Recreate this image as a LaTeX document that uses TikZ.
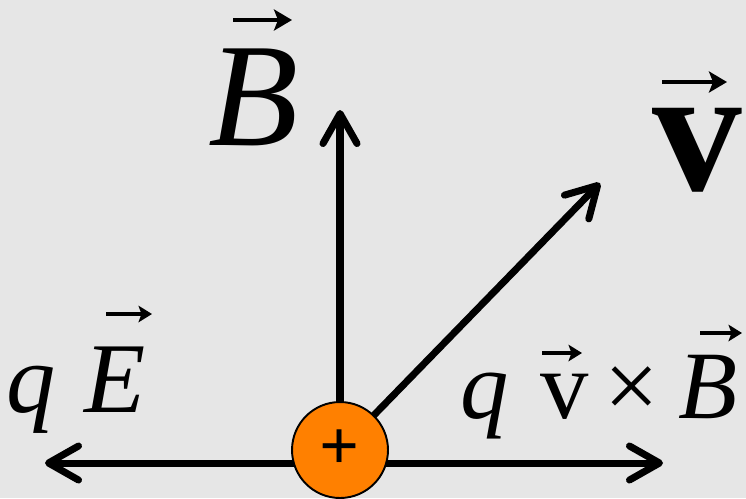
\documentclass[tikz,border=0pt]{standalone}
\usepackage{fontspec}
\setmainfont{Liberation Serif}
\usetikzlibrary{arrows.meta}
\definecolor{bggray}{RGB}{230,230,230}
\definecolor{chargeorange}{RGB}{255,128,0}

\begin{document}
\begin{tikzpicture}[x=0.02cm, y=-0.02cm,
                  vec/.style={line width=4pt, line cap=round,
                              -{Straight Barb[round, length=6mm, width=6.8mm]}},
                  charge/.style={circle, draw, line width=1.1pt, fill=chargeorange,
                                 minimum size=1.92cm, inner sep=0pt,
                                 font=\fontsize{40}{40}\selectfont\bfseries},
                  glyph/.style={inner sep=0pt, anchor=base},
                  accbig/.style={line width=2.8pt,
                                 -{Stealth[length=0.36cm, width=0.42cm, inset=0.08cm]}},
                  accsmall/.style={line width=2.1pt,
                                   -{Stealth[length=0.27cm, width=0.33cm, inset=0.06cm]}},
            ]

            % ---- background ----
            \useasboundingbox (0,0) rectangle (746,498);
            \fill[bggray] (0,0) rectangle (746,498);

            % ---- anchor points ----
            \coordinate (qc)   at (340,450);
            \coordinate (axis) at (340,463);
            \coordinate (Etip) at (45,463);
            \coordinate (Ftip) at (663,463);
            \coordinate (Btip) at (340,110);
            \coordinate (vtip) at (600,183);

            % ---- force and field vectors ----
            \draw[vec] (axis) -- (Etip);
            \draw[vec] (axis) -- (Ftip);
            \draw[vec] (qc) -- (Btip);
            \draw[vec] (qc) -- (vtip);

            % ---- charge ----
            \node[charge] (q) at (qc) {+};

            % ---- field and velocity labels ----
            \node[glyph, font=\fontsize{84}{90}\selectfont\itshape] (Btop) at (254,145) {B};
            \node[glyph, font=\fontsize{102}{108}\selectfont\bfseries] (vtop) at (697,190) {v};
            \draw[accbig] ([shift={(-21,-125)}]Btop.base) -- ([shift={(38,-125)}]Btop.base);
            \draw[accbig] ([shift={(-35,-108)}]vtop.base) -- ([shift={(30,-108)}]vtop.base);

            % ---- force labels ----
            \node[glyph, font=\fontsize{56}{60}\selectfont\itshape] (qL) at (31,412) {q};
            \node[glyph, font=\fontsize{57}{60}\selectfont\itshape] (EL) at (115,412) {E};
            \draw[accsmall] ([shift={(-9,-98)}]EL.base) -- ([shift={(37,-98)}]EL.base);

            \node[glyph, font=\fontsize{55}{60}\selectfont\itshape] (qR) at (485,418) {q};
            \node[glyph, font=\fontsize{55}{60}\selectfont] (vR) at (565,418) {v};
            \node[glyph, font=\fontsize{55}{60}\selectfont] (xR) at (632,418) {×};
            \node[glyph, font=\fontsize{55}{60}\selectfont\itshape] (BR) at (708,418) {B};
            \draw[accsmall] ([shift={(-23,-65)}]vR.base) -- ([shift={(17,-65)}]vR.base);
            \draw[accsmall] ([shift={(-8,-85)}]BR.base) -- ([shift={(34,-85)}]BR.base);

\end{tikzpicture}
\end{document}
